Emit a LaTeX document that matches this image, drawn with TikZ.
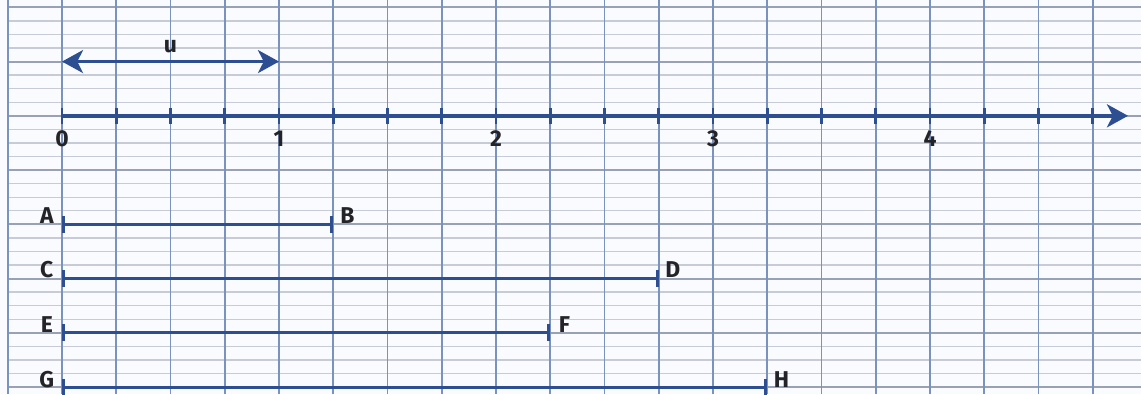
\documentclass[tikz,border=0pt]{standalone}
\usepackage{fontspec}
\setmainfont{Fira Sans}
\usetikzlibrary{arrows.meta}
\definecolor{paper}{RGB}{249,251,255}
\definecolor{gridblue}{RGB}{122,146,190}
\definecolor{gridgray}{RGB}{198,203,214}
\definecolor{gridmajor}{RGB}{152,161,181}
\definecolor{axisblue}{RGB}{45,78,145}
\definecolor{inkgray}{RGB}{35,35,40}
\tikzset{
  >={Stealth[length=11pt, width=12pt, inset=3pt]},
  lbl/.style={font=\fontsize{12}{14}\selectfont\bfseries, text=inkgray, inner sep=1pt},
  seg/.style={axisblue, line width=1.6pt, {Bar[width=9pt]}-{Bar[width=9pt]}},
}
\begin{document}
\begin{tikzpicture}
\useasboundingbox (-1.143,-5.128) rectangle (19.889,2.135);
\fill[paper] (-1.143,-5.128) rectangle (19.889,2.135);
\foreach \j in {0,...,28} \draw[gridgray, line width=0.7pt] (-1,2-\j/4) -- (19.889,2-\j/4);
\foreach \j in {2,1,...,-5} \draw[gridmajor, line width=1.1pt] (-1,\j) -- (19.889,\j);
\foreach \i in {-1,...,19} \draw[gridblue, line width=1pt] (\i,-5.128) -- (\i,2.135);
\coordinate (o) at (0,0);
\coordinate (axisend) at (19.65,0);
\draw[axisblue, line width=2pt, ->] (o) -- (axisend);
\foreach \i in {0,...,19} \draw[axisblue, line width=1.5pt] (\i,-0.15) -- (\i,0.15);
\foreach \n in {0,...,4} \node[lbl] (num\n) at (4*\n,-0.42) {\n};
\coordinate (u0) at (0,1);
\coordinate (u1) at (4,1);
\draw[axisblue, line width=1.8pt, <->] (u0) -- (u1);
\node[lbl] (ulbl) at (2,1.28) {u};
\coordinate (A) at (0,-2);
\coordinate (B) at (5,-2);
\coordinate (C) at (0,-3);
\coordinate (D) at (11,-3);
\coordinate (E) at (0,-4);
\coordinate (F) at (9,-4);
\coordinate (G) at (0,-5);
\coordinate (H) at (13,-5);
\draw[seg] (A) -- (B);
\draw[seg] (C) -- (D);
\draw[seg] (E) -- (F);
\draw[seg] (G) -- (H);
\node[lbl] (labA) at (-0.28,-1.83) {A};
\node[lbl] (labB) at (5.26,-1.83) {B};
\node[lbl] (labC) at (-0.28,-2.84) {C};
\node[lbl] (labD) at (11.26,-2.84) {D};
\node[lbl] (labE) at (-0.28,-3.84) {E};
\node[lbl] (labF) at (9.26,-3.84) {F};
\node[lbl] (labG) at (-0.28,-4.86) {G};
\node[lbl] (labH) at (13.26,-4.86) {H};
\end{tikzpicture}
\end{document}
